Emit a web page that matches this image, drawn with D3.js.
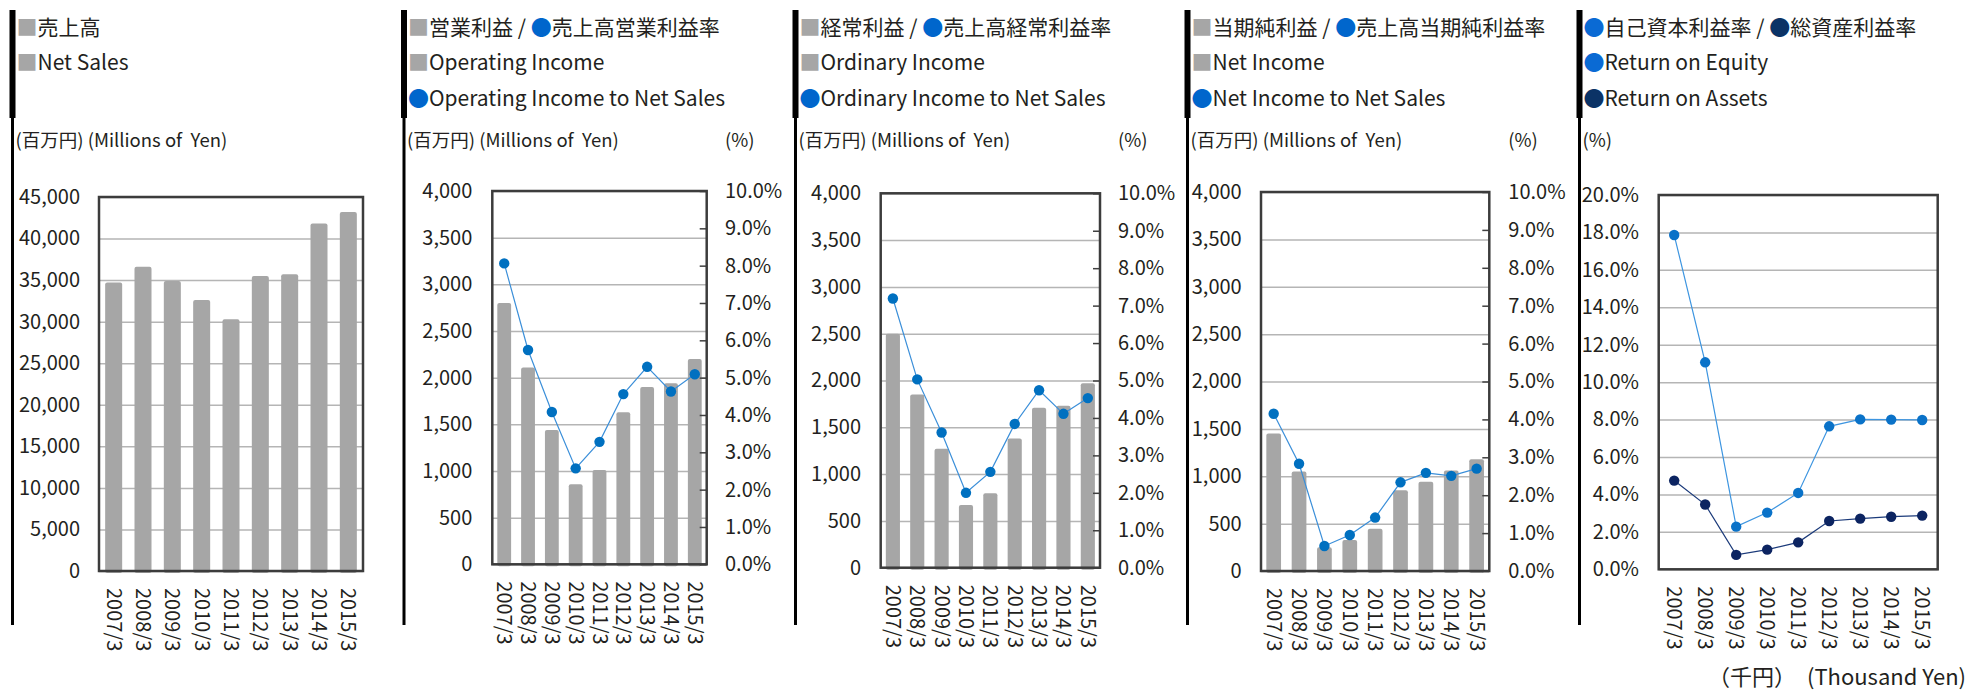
<!DOCTYPE html>
<html>
<head>
<meta charset="utf-8">
<script src="https://cdn.jsdelivr.net/npm/d3@7"></script>
<style>
body { margin: 0; background: #fff; }
svg { display: block; }
</style>
</head>
<body>
<svg id="chart" width="1970" height="691"></svg>
<script>

// fiscal years
var years = ['2007/3', '2008/3', '2009/3', '2010/3', '2011/3', '2012/3', '2013/3', '2014/3', '2015/3']

// millions of yen
var netSales = [34700, 36600, 34900, 32600, 30300, 35500, 35700, 41800, 43200]
var operatingIncome = [2800, 2110, 1440, 857, 1010, 1630, 1900, 1940, 2200]
var ordinaryIncome = [2500, 1850, 1270, 670, 795, 1380, 1710, 1730, 1970]
var netIncome = [1450, 1050, 250, 327, 447, 851, 943, 1062, 1180]

// percent
var operatingMargin = [8.06, 5.74, 4.08, 2.57, 3.28, 4.56, 5.29, 4.63, 5.09]
var ordinaryMargin = [7.19, 5.03, 3.61, 2.00, 2.56, 3.84, 4.74, 4.11, 4.53]
var netMargin = [4.15, 2.83, 0.66, 0.95, 1.41, 2.34, 2.59, 2.51, 2.70]
var roe = [17.86, 11.06, 2.28, 3.03, 4.08, 7.64, 8.01, 8.00, 7.98]
var roa = [4.74, 3.46, 0.77, 1.05, 1.44, 2.58, 2.71, 2.81, 2.87]

// tick values
var salesTicks = [0, 5000, 10000, 15000, 20000, 25000, 30000, 35000, 40000, 45000]
var incomeTicks = [0, 500, 1000, 1500, 2000, 2500, 3000, 3500, 4000]
var marginTicks = [0, 1, 2, 3, 4, 5, 6, 7, 8, 9, 10]
var returnTicks = [0, 2, 4, 6, 8, 10, 12, 14, 16, 18, 20]

var unitYen = '(百万円) (Millions of  Yen)'
var unitPct = '(%)'
var unitBottom = '（千円）　(Thousand Yen)'

var FONT = "'Noto Sans CJK JP', 'Noto Sans', sans-serif"
var TEXT = '#231f20'
var GREY = '#a6a6a6'
var BLUE = '#0070c0'
var NAVY = '#0c2461'

var svg = d3.select('#chart')

var yenFmt = d3.format(',')
var pctFmt = function(d) { return d.toFixed(1) + '%' }

function style_axis(ax) {
	ax.attr('font-family', FONT).attr('font-size', 20)
	ax.select('.domain').remove()
	ax.selectAll('text').attr('fill', TEXT)
}

function draw_panel(p) {

	var g = svg.append('g')

	// black rules on the left
	g.append('rect').attr('x', p.rule - 3).attr('y', 10).attr('width', 6).attr('height', 108).attr('fill', '#000')
	g.append('rect').attr('x', p.rule - 1.5).attr('y', 118).attr('width', 3).attr('height', 507).attr('fill', '#000')

	// legend
	var base = [35, 70, 106]
	p.legend.forEach(function(line, i) {
		var t = g.append('text')
			.attr('x', p.rule + 4)
			.attr('y', base[i])
			.attr('font-family', FONT)
			.attr('font-size', 21)
			.style('white-space', 'pre')
		line.forEach(function(part) {
			t.append('tspan').attr('fill', part[1]).text(part[0])
		})
	})

	// unit labels
	g.append('text')
		.attr('x', p.rule + 3).attr('y', 147)
		.attr('font-family', FONT).attr('font-size', 18.5).attr('fill', TEXT)
		.style('white-space', 'pre')
		.text(p.unitLeft)

	var f = p.frame
	var w = f[2] - f[0]
	var h = f[3] - f[1]

	if (p.unitRight) {
		g.append('text')
			.attr('x', f[2] + p.rgap).attr('y', 147)
			.attr('font-family', FONT).attr('font-size', 18.5).attr('fill', TEXT)
			.text(p.unitRight)
	}

	var plot = g.append('g').attr('transform', 'translate(' + f[0] + ',' + f[1] + ')')

	var x = d3.scaleBand().domain(years).range([0, w]).paddingInner(0.42).paddingOuter(0.21)
	var y = d3.scaleLinear().domain([0, p.yMax]).range([h, 0])

	// grid + left labels
	var ya = plot.append('g')
		.call(d3.axisLeft(y).tickValues(p.yTicks).tickSize(-w).tickPadding(p.lgap).tickFormat(p.fmt))
	style_axis(ya)
	ya.selectAll('line').attr('stroke', '#b5b5b5').attr('stroke-width', 1.5)

	// bars
	if (p.bars) {
		plot.append('g')
			.selectAll('rect')
			.data(p.bars)
			.enter()
			.append('rect')
			.attr('x', function(d, i) { return x(years[i]) })
			.attr('y', function(d) { return y(d) })
			.attr('width', x.bandwidth())
			.attr('height', function(d) { return h - y(d) + 2 })
			.attr('rx', 2)
			.attr('fill', GREY)
	}

	// right axis for the ratio
	var y2 = d3.scaleLinear().domain([0, p.y2Max || p.yMax]).range([h, 0])
	if (p.rightTicks) {
		var ra = plot.append('g')
			.attr('transform', 'translate(' + w + ',0)')
			.call(d3.axisRight(y2).tickValues(p.rightTicks).tickSize(-7).tickPadding(p.rgap).tickFormat(pctFmt))
		style_axis(ra)
		ra.selectAll('line').attr('stroke', '#404040').attr('stroke-width', 1.5)
	}

	// lines + dots
	var yl = p.rightTicks ? y2 : y
	p.lines.forEach(function(s) {
		var line = d3.line()
			.x(function(d, i) { return x(years[i]) + x.bandwidth() / 2 })
			.y(function(d) { return yl(d) })
		plot.append('path')
			.datum(s.values)
			.attr('d', line)
			.attr('fill', 'none')
			.attr('stroke', s.line)
			.attr('stroke-width', 1.2)
		plot.append('g')
			.selectAll('circle')
			.data(s.values)
			.enter()
			.append('circle')
			.attr('cx', function(d, i) { return x(years[i]) + x.bandwidth() / 2 })
			.attr('cy', function(d) { return yl(d) })
			.attr('r', 5.2)
			.attr('fill', s.dot)
	})

	// x labels, rotated
	var xa = plot.append('g')
		.attr('transform', 'translate(0,' + h + ')')
		.call(d3.axisBottom(x).tickSize(0).tickPadding(0))
	style_axis(xa)
	xa.selectAll('text')
		.attr('transform', 'rotate(90)')
		.attr('x', 17)
		.attr('y', 0)
		.attr('dy', '0.35em')
		.attr('text-anchor', 'start')

	// frame
	plot.append('rect')
		.attr('x', 0).attr('y', 0).attr('width', w).attr('height', h)
		.attr('fill', 'none')
		.attr('stroke', '#3c3c3c')
		.attr('stroke-width', 2.5)
}

draw_panel({
	rule: 12.5, frame: [99, 197, 363, 571], lgap: 19,
	yMax: 45000, yTicks: salesTicks, fmt: yenFmt, bars: netSales, lines: [],
	unitLeft: unitYen,
	legend: [
		[['■', GREY], ['売上高', TEXT]],
		[['■', GREY], ['Net Sales', TEXT]]
	]
})

draw_panel({
	rule: 404, frame: [492.3, 191, 706.7, 564.3], lgap: 20, rgap: 18.3,
	yMax: 4000, yTicks: incomeTicks, fmt: yenFmt, bars: operatingIncome,
	y2Max: 10, rightTicks: marginTicks,
	lines: [{ values: operatingMargin, dot: BLUE, line: '#3b8fd9' }],
	unitLeft: unitYen, unitRight: unitPct,
	legend: [
		[['■', GREY], ['営業利益 / ', TEXT], ['●', '#0066cc'], ['売上高営業利益率', TEXT]],
		[['■', GREY], ['Operating Income', TEXT]],
		[['●', '#0066cc'], ['Operating Income to Net Sales', TEXT]]
	]
})

draw_panel({
	rule: 795.5, frame: [880.7, 193.3, 1100, 567.7], lgap: 19.7, rgap: 18,
	yMax: 4000, yTicks: incomeTicks, fmt: yenFmt, bars: ordinaryIncome,
	y2Max: 10, rightTicks: marginTicks,
	lines: [{ values: ordinaryMargin, dot: BLUE, line: '#3b8fd9' }],
	unitLeft: unitYen, unitRight: unitPct,
	legend: [
		[['■', GREY], ['経常利益 / ', TEXT], ['●', '#0066cc'], ['売上高経常利益率', TEXT]],
		[['■', GREY], ['Ordinary Income', TEXT]],
		[['●', '#0066cc'], ['Ordinary Income to Net Sales', TEXT]]
	]
})

draw_panel({
	rule: 1187.5, frame: [1261, 192, 1489.3, 571], lgap: 19.3, rgap: 19,
	yMax: 4000, yTicks: incomeTicks, fmt: yenFmt, bars: netIncome,
	y2Max: 10, rightTicks: marginTicks,
	lines: [{ values: netMargin, dot: BLUE, line: '#3b8fd9' }],
	unitLeft: unitYen, unitRight: unitPct,
	legend: [
		[['■', GREY], ['当期純利益 / ', TEXT], ['●', '#0066cc'], ['売上高当期純利益率', TEXT]],
		[['■', GREY], ['Net Income', TEXT]],
		[['●', '#0066cc'], ['Net Income to Net Sales', TEXT]]
	]
})

draw_panel({
	rule: 1579.5, frame: [1658.7, 195, 1937.7, 569.3], lgap: 19.7,
	yMax: 20, yTicks: returnTicks, fmt: pctFmt,
	lines: [
		{ values: roe, dot: '#0a72c8', line: '#3d95e0' },
		{ values: roa, dot: NAVY, line: '#1b3a7a' }
	],
	unitLeft: unitPct,
	legend: [
		[['●', '#0a6ad4'], ['自己資本利益率 / ', TEXT], ['●', '#0b3366'], ['総資産利益率', TEXT]],
		[['●', '#0a6ad4'], ['Return on Equity', TEXT]],
		[['●', '#0b3366'], ['Return on Assets', TEXT]]
	]
})

svg.append('text')
	.attr('x', 1966).attr('y', 685)
	.attr('text-anchor', 'end')
	.attr('font-family', FONT).attr('font-size', 22).attr('fill', TEXT)
	.style('white-space', 'pre')
	.text(unitBottom)

</script>
</body>
</html>
